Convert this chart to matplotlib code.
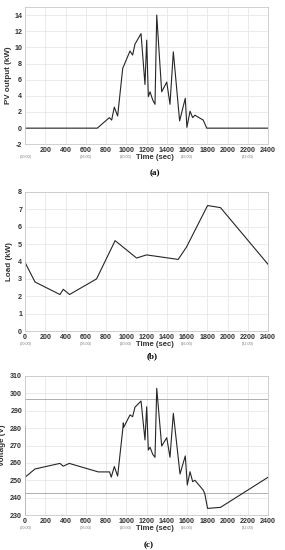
import matplotlib
matplotlib.use("Agg")
import matplotlib.pyplot as plt

# ---- data ----
pv_t = [0, 714, 833, 856, 882, 915, 965, 1037, 1063, 1086, 1146, 1185, 1202, 1218, 1235,
        1261, 1284, 1301, 1350, 1400, 1432, 1465, 1527, 1583, 1599, 1630, 1656, 1678,
        1760, 1795, 2400]
pv_kw = [0, 0, 1.3, 1.0, 2.6, 1.5, 7.4, 9.55, 9.05, 10.4, 11.7, 5.4, 10.9, 3.9, 4.5,
         3.5, 2.95, 14.0, 4.5, 5.7, 2.95, 9.45, 0.9, 3.7, 0.1, 2.1, 1.3, 1.6,
         1.0, 0.0, 0.0]

load_t = [0, 99, 345, 378, 440, 707, 890, 1102, 1200, 1513, 1595, 1803, 1931, 2400]
load_kw = [3.95, 2.82, 2.1, 2.4, 2.1, 3.0, 5.2, 4.2, 4.38, 4.12, 4.83, 7.22, 7.1, 3.84]

volt_t = [0, 0, 0, 99, 345, 378, 437, 724, 835, 852, 882, 915, 965, 971, 975, 1037, 1063,
          1086, 1146, 1185, 1202, 1218, 1235, 1261, 1284, 1301, 1350, 1400, 1432, 1465,
          1531, 1583, 1603, 1630, 1656, 1678, 1759, 1775, 1803, 1931, 2400]
volt_v = [230, 281, 251.7, 256.5, 259.7, 258.1, 259.7, 254.8, 254.8, 251.8, 257.9, 252.4,
          279.0, 283.0, 280.5, 287.6, 286.6, 292.0, 295.6, 273.2, 292.3, 267.4, 269.0,
          265.0, 263.2, 302.9, 269.7, 274.5, 263.2, 288.5, 253.6, 264.0, 247.3, 254.9,
          249.2, 250.0, 244.4, 242.4, 233.8, 234.4, 251.7]
v_upper = 296.6
v_lower = 242.5

x_ticks = [0, 200, 400, 600, 800, 1000, 1200, 1400, 1600, 1800, 2000, 2200, 2400]
hour_pos = [10, 600, 1000, 1600, 2200]
hour_labels = ["(00:00)", "(06:00)", "(10:00)", "(16:00)", "(22:00)"]

pv_yticks = [-2, 0, 2, 4, 6, 8, 10, 12, 14]
load_yticks = [0, 1, 2, 3, 4, 5, 6, 7, 8]
volt_yticks = [230, 240, 250, 260, 270, 280, 290, 300, 310]

# ---- figure ----
plt.rcParams['font.family'] = ['Liberation Sans', 'DejaVu Sans']
fig = plt.figure(figsize=(2.85, 5.5), dpi=100)
left, right = 25 / 285, 268 / 285
W = right - left

def px(y):
    return 1 - y / 550

boxes = [(7, 144.3), (192, 331), (376, 515)]
axes = []
for top, bot in boxes:
    ax = fig.add_axes([left, px(bot), W, px(top) - px(bot)])
    axes.append(ax)

line_col = '#262626'
grid_col = '#e3e3e3'

def style(ax, yticks, ylabel, ylab_x, show_zero=True):
    ax.set_xlim(0, 2400)
    ax.set_xticks(x_ticks)
    labels = [str(v) for v in x_ticks]
    if not show_zero:
        labels[0] = ''
    ax.set_xticklabels(labels, fontsize=5.1, fontweight='bold', color='#333333')
    ax.set_yticks(yticks)
    ax.set_yticklabels([str(v) for v in yticks], fontsize=5.1, fontweight='bold', color='#333333')
    ax.tick_params(length=0, pad=2)
    ax.grid(True, color=grid_col, linewidth=0.5)
    ax.set_axisbelow(True)
    for s in ax.spines.values():
        s.set_color('#c8c8c8')
        s.set_linewidth(0.6)
    ax.set_ylabel(ylabel, fontsize=5.8, fontweight='bold', color='#333333')
    ax.yaxis.set_label_coords(ylab_x, 0.5)
    for hp, hl in zip(hour_pos, hour_labels):
        ax.annotate(hl, xy=(hp, 0), xycoords=('data', 'axes fraction'),
                    xytext=(0, -9.3), textcoords='offset points',
                    ha='center', va='center', fontsize=2.7, color='#777777')
    ax.annotate('Time (sec)', xy=(0.535, 0), xycoords='axes fraction',
                xytext=(0, -9.6), textcoords='offset points',
                ha='center', va='center', fontsize=5.6, fontweight='bold', color='#333333')

ax1, ax2, ax3 = axes

ax1.plot(pv_t, pv_kw, color=line_col, linewidth=0.8)
ax1.set_ylim(-2, 15)
style(ax1, pv_yticks, 'PV output (kW)', -0.055, show_zero=False)

ax2.plot(load_t, load_kw, color=line_col, linewidth=0.8)
ax2.set_ylim(0, 8)
style(ax2, load_yticks, 'Load (kW)', -0.05)

ax3.axhline(v_upper, color='#e46a6a', linewidth=0.5)
ax3.axhline(v_lower, color='#e46a6a', linewidth=0.5)
ax3.plot(volt_t, volt_v, color=line_col, linewidth=0.8)
ax3.set_ylim(230, 310)
style(ax3, volt_yticks, 'Voltage (V)', -0.078)

fig.text(0.544, px(173), '(a)', ha='center', va='center', fontsize=6.5,
         fontweight='bold', family='Liberation Serif')
fig.text(0.533, px(356), '(b)', ha='center', va='center', fontsize=6.5,
         fontweight='bold', family='Liberation Serif')
fig.text(0.52, px(545), '(c)', ha='center', va='center', fontsize=6.5,
         fontweight='bold', family='Liberation Serif')

fig.savefig('out.png', dpi=100)
